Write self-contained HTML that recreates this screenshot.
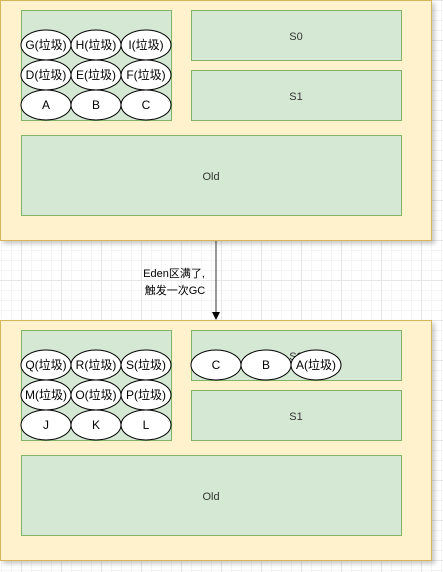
<!DOCTYPE html>
<html><head><meta charset="utf-8"><style>
html,body{margin:0;padding:0}
body{width:443px;height:572px;overflow:hidden;background:#fff;
background-image:linear-gradient(#e6e6e6 1px,transparent 1px),linear-gradient(90deg,#e6e6e6 1px,transparent 1px),linear-gradient(#f4f4f4 1px,transparent 1px),linear-gradient(90deg,#f4f4f4 1px,transparent 1px);
background-size:40px 40px,40px 40px,10px 10px,10px 10px;background-position:21px 0,21px 0,1px 0,1px 0;font-family:"Liberation Sans","Noto Sans CJK SC",sans-serif}
</style></head><body>
<svg width="443" height="572" xmlns="http://www.w3.org/2000/svg" style="position:absolute;left:0;top:0;font-family:'Liberation Sans','Noto Sans CJK SC',sans-serif">
<defs><filter id="sh" x="-5%" y="-5%" width="115%" height="115%"><feDropShadow dx="3" dy="3" stdDeviation="2" flood-color="#000" flood-opacity="0.2"/></filter></defs>
<g>
<rect x="0.5" y="0.5" width="431" height="240" fill="#fff2cc" stroke="#d6b656" filter="url(#sh)"/>
<rect x="21.5" y="10.5" width="150" height="110" fill="#d5e8d4" stroke="#82b366"/>
<rect x="191.5" y="10.5" width="210" height="50" fill="#d5e8d4" stroke="#82b366"/>
<text x="296" y="40" font-size="11" text-anchor="middle" fill="#333">S0</text>
<rect x="191.5" y="70.5" width="210" height="50" fill="#d5e8d4" stroke="#82b366"/>
<text x="296" y="100" font-size="11" text-anchor="middle" fill="#333">S1</text>
<rect x="21.5" y="135.5" width="380" height="80" fill="#d5e8d4" stroke="#82b366"/>
<text x="211" y="180" font-size="11" text-anchor="middle" fill="#333">Old</text>
</g>
<g>
<line x1="216" y1="241" x2="216" y2="313" stroke="#333" stroke-width="1"/>
<polygon points="212,312 220,312 216,320" fill="#000"/>
<text x="174" y="277" font-size="11" text-anchor="middle" fill="#000">Eden区满了,</text>
<text x="175" y="294" font-size="11" text-anchor="middle" fill="#000">触发一次GC</text>
</g>
<g>
<rect x="0.5" y="320.5" width="431" height="240" fill="#fff2cc" stroke="#d6b656" filter="url(#sh)"/>
<rect x="21.5" y="330.5" width="150" height="110" fill="#d5e8d4" stroke="#82b366"/>
<rect x="191.5" y="330.5" width="210" height="50" fill="#d5e8d4" stroke="#82b366"/>
<text x="296" y="360" font-size="11" text-anchor="middle" fill="#333">S0</text>
<rect x="191.5" y="390.5" width="210" height="50" fill="#d5e8d4" stroke="#82b366"/>
<text x="296" y="420" font-size="11" text-anchor="middle" fill="#333">S1</text>
<rect x="21.5" y="455.5" width="380" height="80" fill="#d5e8d4" stroke="#82b366"/>
<text x="211" y="500" font-size="11" text-anchor="middle" fill="#333">Old</text>
</g>
<g id="objs"></g>
</svg>
<script>
const objs=[
["G(垃圾)",46,45],["H(垃圾)",96,45],["I(垃圾)",146,45],
["D(垃圾)",46,75],["E(垃圾)",96,75],["F(垃圾)",146,75],
["A",46,105],["B",96,105],["C",146,105],
["Q(垃圾)",46,365],["R(垃圾)",96,365],["S(垃圾)",146,365],
["M(垃圾)",46,395],["O(垃圾)",96,395],["P(垃圾)",146,395],
["J",46,425],["K",96,425],["L",146,425],
["C",216,365],["B",266,365],["A(垃圾)",316,365]];
const g=document.getElementById('objs');const NS='http://www.w3.org/2000/svg';
objs.forEach(o=>{
const e=document.createElementNS(NS,'ellipse');


e.setAttribute('cx',o[1]);e.setAttribute('cy',o[2]);e.setAttribute('rx',25);e.setAttribute('ry',15);
e.setAttribute('fill','#fff');e.setAttribute('stroke','#000');g.appendChild(e);
const t=document.createElementNS(NS,'text');


t.setAttribute('x',o[1]);t.setAttribute('y',o[2]+4);t.setAttribute('font-size','12');
t.setAttribute('text-anchor','middle');t.textContent=o[0];g.appendChild(t);});
</script>
</body></html>
